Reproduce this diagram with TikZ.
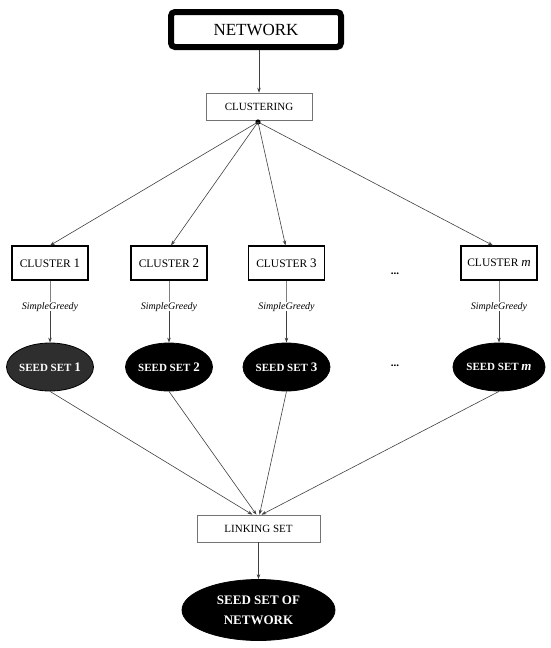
\documentclass[tikz,border=0pt]{standalone}
\usepackage{fontspec}
\setmainfont{Liberation Serif}
\usetikzlibrary{shapes.geometric,arrows.meta}
\begin{document}
\begin{tikzpicture}[x=1pt,y=-1pt,
  conn/.style={draw=black!75,line width=0.6pt},
  arr/.style={conn,-{Stealth[length=5pt,width=3.5pt]}},
  graybox/.style={draw=black!55,line width=0.6pt,minimum height=27pt,font=\fontsize{11}{13}\selectfont},
  clbox/.style={draw=black,line width=1.1pt,minimum width=76pt,minimum height=34pt,font=\fontsize{11.5}{13}\selectfont},
  seed/.style={ellipse,fill=black,draw=black,line width=0.8pt,minimum width=80pt,minimum height=48pt,inner sep=0pt,text=white,font=\bfseries\fontsize{11}{13}\selectfont},
  sg/.style={font=\itshape\fontsize{10}{12}\selectfont,inner sep=1pt},
  dots/.style={font=\bfseries\fontsize{11}{12}\selectfont}]
\useasboundingbox (0,0) rectangle (550,648);
\node[draw=black,line width=6pt,rounded corners=4pt,minimum width=170pt,minimum height=35pt,font=\fontsize{17}{19}\selectfont] (net) at (256,29.5) {NETWORK};
\node[graybox,minimum width=106pt] (clu) at (259,106.5) {CLUSTERING};
\coordinate (hub) at (258,122);
\fill (hub) circle (2.6pt);
\draw[arr] (net.south -| clu.north) -- (clu.north);

\node[clbox] (c1) at (50,263) {CLUSTER \fontsize{13}{13}\selectfont 1};
\node[clbox] (c2) at (169,263) {CLUSTER \fontsize{13}{13}\selectfont 2};
\node[clbox] (c3) at (286.5,263) {CLUSTER \fontsize{13}{13}\selectfont 3};
\node[clbox] (cm) at (499,263) {CLUSTER \fontsize{13}{13}\selectfont\itshape m};
\node[dots] (d1) at (395,274) {...};

\draw[arr] (hub) -- (c1.north);
\draw[arr] (hub) -- ([xshift=2pt]c2.north);
\draw[arr] (hub) -- ([xshift=-1pt]c3.north);
\draw[arr] (hub) -- ([xshift=-6pt]cm.north);

\node[sg] (g1) at (50,307) {SimpleGreedy};
\node[sg] (g2) at (169,307) {SimpleGreedy};
\node[sg] (g3) at (286.5,307) {SimpleGreedy};
\node[sg] (gm) at (499,307) {SimpleGreedy};

\node[seed,fill=black!82] (s1) at (50,367) {SEED SET \fontsize{13}{13}\selectfont 1};
\node[seed] (s2) at (169,367) {SEED SET \fontsize{13}{13}\selectfont 2};
\node[seed] (s3) at (286.5,367) {SEED SET \fontsize{13}{13}\selectfont 3};
\node[seed] (sm) at (499,367) {SEED SET \fontsize{13}{13}\selectfont\itshape m};
\node[dots] (d2) at (395,366) {...};

\foreach \c/\g/\s in {c1/g1/s1,c2/g2/s2,c3/g3/s3,cm/gm/sm}{
  \draw[conn,draw=black!50] (\c.south) -- ([yshift=-1pt]\g.north);
  \draw[arr] ([yshift=2pt]\g.south) -- (\s.north);
}

\node[graybox,minimum width=123pt] (link) at (258.5,528.5) {LINKING SET};
\draw[arr] (s1.south) -- ([xshift=-6pt]link.north);
\draw[arr] (s2.south) -- ([xshift=-2pt]link.north);
\draw[arr] (s3.south) -- ([xshift=1pt]link.north);
\draw[arr] (sm.south) -- ([xshift=3pt]link.north);

\node[seed,minimum width=153pt,minimum height=61pt,align=center,font=\bfseries\fontsize{13}{20}\selectfont] (fin) at (258.5,610) {SEED SET OF\\NETWORK};
\draw[arr] (link.south) -- (fin.north);
\end{tikzpicture}
\end{document}
